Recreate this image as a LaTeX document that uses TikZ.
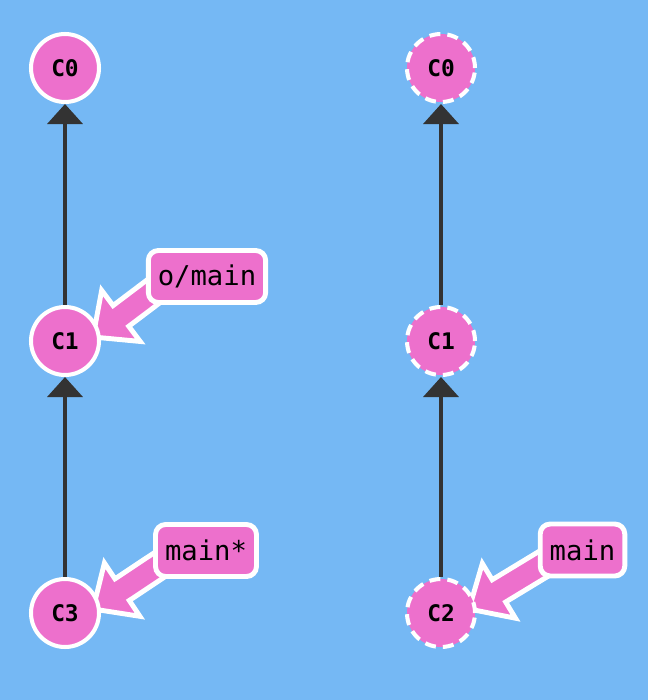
\documentclass[tikz,border=0pt]{standalone}
\usepackage{fontspec}
\setmonofont{DejaVu Sans Mono}
\usetikzlibrary{arrows.meta,calc}

\definecolor{skyblue}{HTML}{75B8F4}
\definecolor{commitpink}{HTML}{ED70CC}
\definecolor{edgegray}{HTML}{333333}

\pgfdeclarelayer{back}
\pgfdeclarelayer{mid}
\pgfsetlayers{back,mid,main}

% fat pointer from a branch label to its commit
\newcommand{\branchptr}[2]{%
  \coordinate (tip) at ($(#2)+(28,-4)$);
  \coordinate (tail) at ($(#1.west)+(22,4)$);
  \coordinate (base) at ($(tip)!7mm!(tail)$);
  \filldraw[pointer] ($(tail)!2.6mm!90:(tip)$) -- ($(base)!2.6mm!90:(tip)$)
    -- ($(base)!6.4mm!90:(tip)$) -- (tip) -- ($(base)!6.4mm!-90:(tip)$)
    -- ($(base)!2.6mm!-90:(tip)$) -- ($(tail)!2.6mm!-90:(tip)$) -- cycle;
}

\begin{document}
\begin{tikzpicture}[x=0.02cm,y=-0.02cm,
  commit/.style={circle,fill=commitpink,draw=white,line width=2.3pt,minimum size=13.6mm,inner sep=0pt,font=\ttfamily\bfseries\fontsize{13}{15}\selectfont},
  ghost/.style={commit,dash pattern=on 2.2mm off 1.4mm},
  branch/.style={rounded corners=2mm,fill=commitpink,draw=white,line width=2.8pt,inner xsep=1.9mm,minimum height=10.4mm,font=\ttfamily\fontsize{15.5}{18}\selectfont},
  parent/.style={draw=edgegray,line width=2.27pt,-{Triangle[width=7mm,length=4mm]}},
  pointer/.style={fill=commitpink,draw=white,line width=2.8pt,line join=miter}]

% background
\begin{pgfonlayer}{back}
\fill[skyblue] (0,0) rectangle (648,700);
\end{pgfonlayer}

% left tree
\node[commit] (c0) at (65,68) {C0};
\node[commit] (c1) at (65,341) {C1};
\node[commit] (c3) at (65,613) {C3};
\draw[parent] (c1) -- (c0);
\draw[parent] (c3) -- (c1);

% right tree
\node[ghost] (r0) at (441,68) {C0};
\node[ghost] (r1) at (441,341) {C1};
\node[ghost] (c2) at (441,613) {C2};
\draw[parent] (r1) -- (r0);
\draw[parent] (c2) -- (r1);

% branch labels
\node[branch] (origin) at (207,276.5) {o/main};
\node[branch] (head) at (206,550.5) {main*};
\node[branch] (main) at (582.5,550) {main};

\begin{pgfonlayer}{mid}
\branchptr{origin}{c1}
\branchptr{head}{c3}
\branchptr{main}{c2}
\end{pgfonlayer}
\end{tikzpicture}
\end{document}
